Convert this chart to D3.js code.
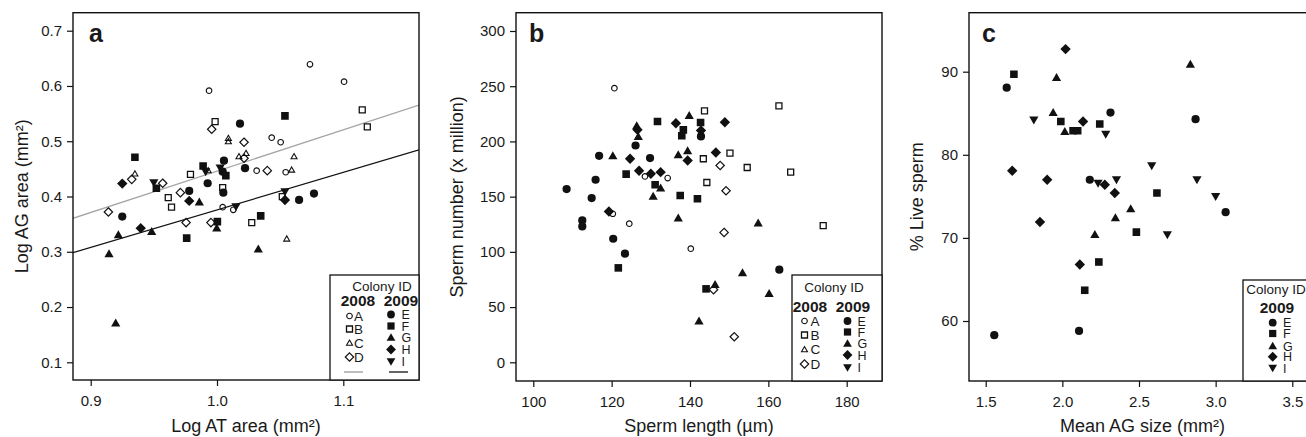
<!DOCTYPE html>
<html><head><meta charset="utf-8">
<script src="https://cdn.jsdelivr.net/npm/d3@7"></script>
<style>
body{margin:0;background:#fff;}
text{font-family:"Liberation Sans",Arial,Helvetica,sans-serif;fill:#1a1a1a;}
</style></head>
<body><svg id="chart" width="1306" height="437"></svg>
<script>
// ---------- DATA ----------
// Panel a: Log AT area vs Log AG area
const aColony = ["A","A","A","A","A","A","A","A","A",
  "B","B","B","B","B","B","B","B","B",
  "C","C","C","C","C","C","C","C","C",
  "D","D","D","D","D","D","D","D","D","D",
  "E","E","E","E","E","E","E","E","E","E",
  "F","F","F","F","F","F","F","F",
  "G","G","G","G","G","G","G",
  "H","H","H","H",
  "I","I","I","I","I"];
const aX = [0.9937,1.0736,1.1006,1.0433,1.0504,1.0314,1.0544,1.0045,1.0129,
  0.9985,0.979,0.9614,0.964,1.115,1.119,1.0045,1.0517,1.0275,
  0.935,1.009,1.009,1.061,1.0174,1.023,0.993,1.0591,1.0552,
  0.9958,0.9325,0.957,0.971,0.914,0.9755,0.9952,1.0214,1.0214,1.0398,
  0.9926,0.978,0.925,1.0182,1.0055,1.0045,1.0222,1.005,1.065,1.0768,
  0.935,0.952,0.989,0.976,1.0003,1.0538,1.007,1.0346,
  0.986,0.9219,0.9483,0.9145,0.9198,0.9998,1.0327,
  0.925,0.978,0.9396,1.0538,
  0.950,0.991,1.0025,1.0538,1.015];
const aY = [0.5915,0.6392,0.6078,0.5065,0.4982,0.4468,0.4439,0.3807,0.3758,
  0.5355,0.440,0.398,0.3807,0.5566,0.5259,0.4161,0.3998,0.3528,
  0.441,0.5054,0.4993,0.4722,0.4722,0.4783,0.447,0.4481,0.3233,
  0.5217,0.431,0.424,0.407,0.372,0.3528,0.3528,0.4982,0.4692,0.4468,
  0.424,0.410,0.3637,0.5318,0.4649,0.445,0.4512,0.407,0.3938,0.4053,
  0.471,0.415,0.4553,0.3246,0.3546,0.5458,0.4378,0.3649,
  0.3897,0.3306,0.3366,0.2962,0.1709,0.3427,0.3047,
  0.4233,0.392,0.3427,0.3938,
  0.425,0.445,0.4516,0.4089,0.3818];
const aLineYear = ["2008","2009"];
const aLineSlope = [0.748,0.678];
const aLineIntercept = [-0.3021,-0.3022];
const aXTicks = [0.9,1.0,1.1];
const aYTicks = [0.1,0.2,0.3,0.4,0.5,0.6,0.7];

// Panel b: Sperm length vs sperm number
const bColony = ["A","A","A","A","A","A",
  "B","B","B","B","B","B","B","B",
  "D","D","D","D","D",
  "E","E","E","E","E","E","E","E","E","E","E","E",
  "F","F","F","F","F","F","F","F","F","F",
  "G","G","G","G","G","G","G","G","G","G","G","G","G","G",
  "H","H","H","H","H","H","H","H","H","H","H"];
const bX = [120.7,128.5,120.3,124.5,134.3,140.2,
  143.7,162.7,143.4,150.2,154.6,165.7,144.3,174.0,
  147.7,149.2,148.7,146.0,151.3,
  126.1,116.8,129.8,115.9,108.5,114.9,112.5,112.5,120.4,123.4,162.8,142.8,
  123.7,121.7,131.7,142.7,138.3,137.9,131.1,137.5,141.9,144.1,
  126.4,126.8,120.3,139.8,137.0,139.4,132.5,130.6,137.0,157.4,153.4,146.4,160.2,142.3,
  126.6,124.7,127.0,130.0,132.5,119.3,136.4,148.9,142.8,139.4,146.6];
const bY = [248.2,168.3,134.5,125.5,166.8,102.9,
  227.7,232.2,184.3,189.4,176.4,172.2,162.8,123.7,
  178.2,155.3,117.6,65.8,23.1,
  196.3,187.0,184.9,165.3,156.9,148.7,128.5,123.0,111.9,98.4,83.9,204.5,
  170.4,85.5,218.0,217.1,210.5,205.1,160.8,151.1,148.1,66.5,
  214.1,204.4,187.0,223.4,187.9,191.5,157.8,150.2,130.6,126.1,80.9,70.3,62.2,37.2,
  210.5,184.3,173.4,170.7,172.2,136.6,216.5,217.4,210.0,182.7,190.0];
const bXTicks = [100,120,140,160,180];
const bYTicks = [0,50,100,150,200,250,300];

// Panel c: Mean AG size vs % live sperm
const cColony = ["E","E","E","E","E","E","E",
  "F","F","F","F","F","F","F","F","F",
  "G","G","G","G","G","G","G",
  "H","H","H","H","H","H","H","H",
  "I","I","I","I","I","I","I","I"];
const cX = [1.637,2.314,2.869,2.179,3.065,1.556,2.109,
  1.684,1.990,2.07,2.10,2.244,2.617,2.483,2.238,2.146,
  1.962,1.940,2.016,2.835,2.446,2.346,2.212,
  2.021,2.135,1.673,1.901,2.277,2.342,1.854,2.114,
  1.814,2.283,2.583,2.233,2.353,2.878,3.0,2.685];
const cY = [88.08,85.08,84.29,77.0,73.1,58.3,58.8,
  89.69,84.0,82.9,82.9,83.7,75.4,70.7,67.1,63.7,
  89.28,85.08,82.8,90.89,73.5,72.4,70.4,
  92.72,84.0,78.08,77.0,76.4,75.4,71.92,66.8,
  84.2,82.5,78.7,76.6,77.0,77.0,75.0,70.4];
const cXTicks = [1.5,2.0,2.5,3.0,3.5];
const cYTicks = [60,70,80,90];

const years2008 = ["A","B","C","D"];
const years2009 = ["E","F","G","H","I"];

// ---------- DRAWING ----------
const svg = d3.select("#chart");
const INK = "#111";

function shape(code){
  switch(code){
    case "A": return {d: d3.arc()({innerRadius:0,outerRadius:2.8,startAngle:0,endAngle:2*Math.PI}), filled:false, sw:1.1};
    case "B": return {d: "M-3,-3H3V3H-3Z", filled:false, sw:1.3};
    case "C": return {d: "M0,-3L3,2.2L-3,2.2Z", filled:false, sw:1.1};
    case "D": return {d: "M0,-4.2L4.2,0L0,4.2L-4.2,0Z", filled:false, sw:1.2};
    case "E": return {d: d3.arc()({innerRadius:0,outerRadius:4.1,startAngle:0,endAngle:2*Math.PI}), filled:true, sw:0};
    case "F": return {d: "M-3.8,-3.8H3.8V3.8H-3.8Z", filled:true, sw:0};
    case "G": return {d: "M0,-4.6L4.6,3.4L-4.6,3.4Z", filled:true, sw:0};
    case "H": return {d: "M0,-5.2L5.2,0L0,5.2L-5.2,0Z", filled:true, sw:0};
    case "I": return {d: "M0,4.6L4.6,-3.4L-4.6,-3.4Z", filled:true, sw:0};
  }
}
function drawSym(g, code, x, y, k=1){
  const s = shape(code);
  g.append("path").attr("d", s.d).attr("transform", `translate(${x},${y}) scale(${k})`)
    .attr("fill", s.filled ? INK : "none")
    .attr("stroke", s.filled ? "none" : INK)
    .attr("stroke-width", s.sw / k);
}

function panel(cfg){
  const g = svg.append("g");
  const x = d3.scaleLinear().domain(cfg.xd).range(cfg.xr);
  const y = d3.scaleLinear().domain(cfg.yd).range(cfg.yr);
  const [L,R,T,B] = cfg.box;
  const clipId = "clip"+cfg.label;
  svg.append("clipPath").attr("id", clipId).append("rect")
    .attr("x", L).attr("y", T).attr("width", R-L).attr("height", B-T);

  const xa = d3.axisBottom(x).tickValues(cfg.xt).tickSize(6).tickFormat(cfg.xf);
  const gx = g.append("g").attr("transform", `translate(0,${B})`).call(xa);
  gx.select(".domain").remove();
  gx.selectAll("line").attr("stroke", INK).attr("stroke-width", 1.2);
  gx.selectAll("text").attr("font-size", 15).attr("dy", "1.15em").style("font-family", "Liberation Sans, Arial, sans-serif").attr("fill","#1a1a1a");
  const ya = d3.axisLeft(y).tickValues(cfg.yt).tickSize(6).tickFormat(cfg.yf);
  const gy = g.append("g").attr("transform", `translate(${L},0)`).call(ya);
  gy.select(".domain").remove();
  gy.selectAll("line").attr("stroke", INK).attr("stroke-width", 1.2);
  gy.selectAll("text").attr("font-size", 15).attr("x", -11).style("font-family", "Liberation Sans, Arial, sans-serif").attr("fill","#1a1a1a");

  const plot = g.append("g").attr("clip-path", `url(#${clipId})`);
  if (cfg.lines){
    cfg.lines.forEach(l => {
      const x0 = x.invert(L), x1 = x.invert(R);
      plot.append("line")
        .attr("x1", x(x0)).attr("y1", y(l.m*x0 + l.b))
        .attr("x2", x(x1)).attr("y2", y(l.m*x1 + l.b))
        .attr("stroke", l.color).attr("stroke-width", 1.3);
    });
  }
  cfg.colony.forEach((c,i) => drawSym(plot, c, x(cfg.xs[i]), y(cfg.ys[i])));

  g.append("rect").attr("x", L).attr("y", T).attr("width", R-L).attr("height", B-T)
    .attr("fill", "none").attr("stroke", INK).attr("stroke-width", 1.4);

  g.append("text").attr("x", cfg.letterX).attr("y", 42).attr("font-size", 25)
    .attr("font-weight", "bold").text(cfg.label);

  g.append("text").attr("x", (L+R)/2).attr("y", 432).attr("text-anchor", "middle")
    .attr("font-size", 18).text(cfg.xtitle);
  g.append("text").attr("transform", `translate(${cfg.ytx},${(T+B)/2}) rotate(-90)`)
    .attr("text-anchor", "middle").attr("dy", "0.35em").attr("font-size", 18).text(cfg.ytitle);
  return g;
}

const f1 = d3.format(".1f");
const f0 = d3.format("d");

panel({label:"a", xd:[0.9,1.1], xr:[90.7,343.3], yd:[0.1,0.7], yr:[362.3,30.7],
  box:[73,419,12.7,380], xt:aXTicks, yt:aYTicks, xf:f1, yf:f1,
  colony:aColony, xs:aX, ys:aY, letterX:89,
  lines: aLineYear.map((yr,i)=>({m:aLineSlope[i], b:aLineIntercept[i], color: yr==="2008" ? "#a6a6a6" : INK})),
  xtitle:"Log AT area (mm²)", ytitle:"Log AG area (mm²)", ytx:22});

panel({label:"b", xd:[100,180], xr:[533.3,846.7], yd:[0,300], yr:[362.3,31],
  box:[516,882,12.7,381], xt:bXTicks, yt:bYTicks, xf:f0, yf:f0,
  colony:bColony, xs:bX, ys:bY, letterX:529,
  xtitle:"Sperm length (µm)", ytitle:"Sperm number (x million)", ytx:457});

panel({label:"c", xd:[1.5,3.5], xr:[985.7,1292.3], yd:[60,90], yr:[321,71.7],
  box:[969,1316,12.7,381], xt:cXTicks, yt:cYTicks, xf:f1, yf:f0,
  colony:cColony, xs:cX, ys:cY, letterX:982,
  xtitle:"Mean AG size (mm²)", ytitle:"% Live sperm", ytx:917});

// ---------- LEGENDS ----------
function legendBox(g, L, T, R, B){
  g.append("rect").attr("x", L).attr("y", T).attr("width", R-L).attr("height", B-T)
    .attr("fill", "#fff").attr("stroke", INK).attr("stroke-width", 1.3);
}
function lt(g, x, y, s, opts={}){
  return g.append("text").attr("x", x).attr("y", y).attr("dy","0.36em")
    .attr("font-size", opts.size||13.5).attr("font-weight", opts.bold?"bold":"normal")
    .attr("text-anchor", opts.anchor||"start").text(s);
}
const LS = 12.5; // legend letter size

// legend a
(function(){
  const g = svg.append("g");
  legendBox(g, 330, 275, 419, 380);
  lt(g, 382, 286, "Colony ID", {anchor:"middle", size:13.5});
  lt(g, 358, 300, "2008", {anchor:"middle", size:15.5, bold:true});
  lt(g, 401, 300, "2009", {anchor:"middle", size:15.5, bold:true});
  const ya = [316, 329, 343, 357];
  years2008.forEach((c,i)=>{ drawSym(g, c, 349.5, ya[i]); lt(g, 354, ya[i], c, {size:LS+1}); });
  const yb = [314.5, 326, 337.5, 349.5, 361.5];
  years2009.forEach((c,i)=>{ drawSym(g, c, 391, yb[i], 0.95); lt(g, 401.5, yb[i], c, {size:LS}); });
  g.append("line").attr("x1",344).attr("x2",363).attr("y1",372).attr("y2",372).attr("stroke","#a6a6a6").attr("stroke-width",1.5);
  g.append("line").attr("x1",389).attr("x2",408).attr("y1",372).attr("y2",372).attr("stroke","#333").attr("stroke-width",1.5);
})();

// legend b
(function(){
  const g = svg.append("g");
  legendBox(g, 792, 275, 882, 381);
  lt(g, 834, 287, "Colony ID", {anchor:"middle", size:13.5});
  lt(g, 810, 306, "2008", {anchor:"middle", size:15.5, bold:true});
  lt(g, 853, 306, "2009", {anchor:"middle", size:15.5, bold:true});
  const ya = [321, 335, 349.5, 364];
  years2008.forEach((c,i)=>{ drawSym(g, c, 804.5, ya[i]); lt(g, 810.5, ya[i], c, {size:LS+1}); });
  const yb = [321, 332, 343.5, 355, 367.5];
  years2009.forEach((c,i)=>{ drawSym(g, c, 847.5, yb[i], 0.95); lt(g, 857.5, yb[i], c, {size:LS}); });
})();

// legend c
(function(){
  const g = svg.append("g");
  legendBox(g, 1243, 280, 1316, 381);
  lt(g, 1276, 289, "Colony ID", {anchor:"middle", size:13.5});
  lt(g, 1277, 307, "2009", {anchor:"middle", size:15.5, bold:true});
  const yb = [322.7, 333.5, 346, 356.7, 368];
  years2009.forEach((c,i)=>{ drawSym(g, c, 1272.7, yb[i], 0.95); lt(g, 1283, yb[i], c, {size:LS}); });
})();
</script></body></html>
